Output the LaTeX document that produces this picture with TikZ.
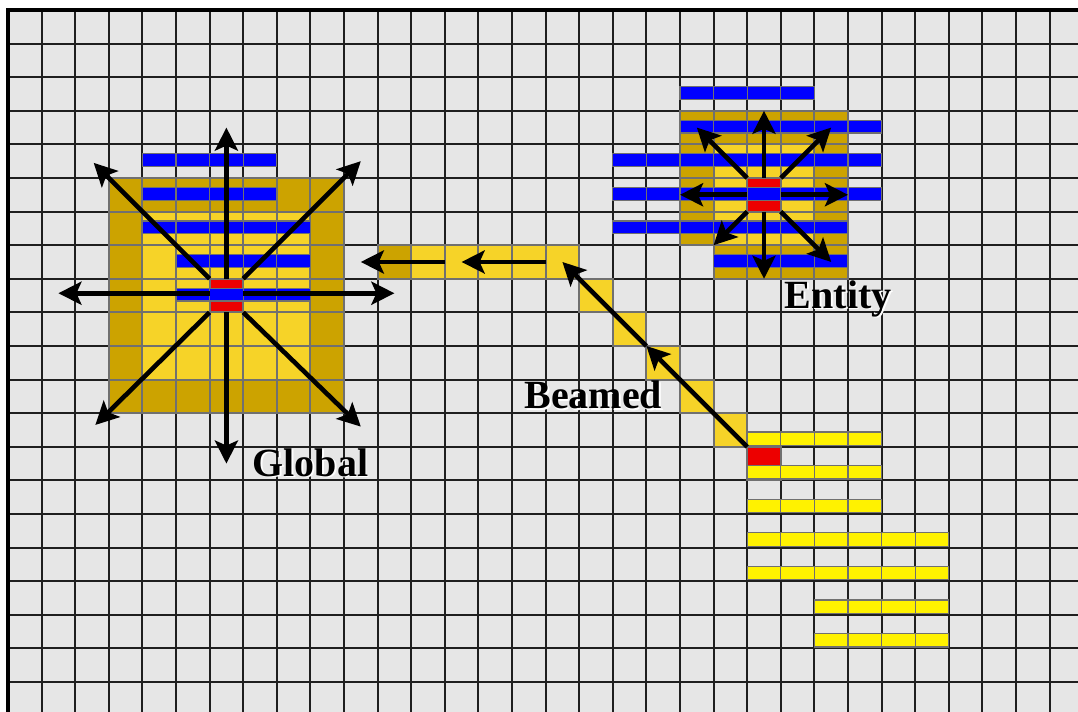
\documentclass[tikz,border=0pt]{standalone}
\usepackage{fontspec}
\setmainfont{Liberation Serif}
\usetikzlibrary{arrows.meta}

\definecolor{bggray}{RGB}{230,230,230}
\definecolor{darkgold}{RGB}{204,163,0}
\definecolor{lightgold}{RGB}{246,211,40}
\definecolor{cellline}{RGB}{112,112,112}
\definecolor{hitred}{RGB}{237,0,0}

% bold label with a faint white shadow
\newcommand{\halo}[1]{\makebox[0pt][l]{\hspace{0.8pt}\raisebox{-0.8pt}{\textcolor{white}{#1}}}#1}

\begin{document}
\begin{tikzpicture}[x=16.8pt, y=-16.8pt,
	gridline/.style={line width=1pt, color=black!88},
	cell/.style={draw=cellline, line width=1pt},
	bar/.style={draw=cellline, line width=0.6pt},
	ray/.style={line width=2.3pt, -{Stealth[length=11.5pt, width=11.5pt, inset=2.5pt]}},
	tag/.style={anchor=base, inner sep=0pt, font=\fontsize{20}{24}\selectfont\bfseries}]
	\useasboundingbox (-0.238,-0.297) rectangle (31.845,20.89);
	\clip (-0.238,-0.297) rectangle (31.845,20.89);
	\fill[white] (-0.238,-0.297) rectangle (31.845,20.89);
	% floor grid, one line per cell edge
	\fill[bggray] (0,0) rectangle (32,21);
	\foreach \c in {1,...,32}
		\draw[gridline] (\c,0) -- (\c,21);
	\foreach \r in {1,...,21}
		\draw[gridline] (0,\r) -- (32,\r);

	% global block: 7x7 outer ring, 5x5 core
	\foreach \c in {3,...,9}
		\foreach \r in {5,...,11}
			\filldraw[cell, fill=darkgold] (\c,\r) rectangle ++(1,1);
	\foreach \c in {4,...,8}
		\foreach \r in {6,...,10}
			\filldraw[cell, fill=lightgold] (\c,\r) rectangle ++(1,1);
	\filldraw[cell, fill=hitred] (6,8) rectangle ++(1,1);

	% entity block
	\foreach \c in {20,...,24}
		\foreach \r in {3,...,6}
			\filldraw[cell, fill=darkgold] (\c,\r) rectangle ++(1,1);
	\foreach \c in {21,...,24}
		\filldraw[cell, fill=darkgold] (\c,7) rectangle ++(1,1);
	\foreach \c in {21,...,23}
		\foreach \r in {4,...,6}
			\filldraw[cell, fill=lightgold] (\c,\r) rectangle ++(1,1);
	\filldraw[cell, fill=hitred] (22,5) rectangle ++(1,1);

	% beam track
	\filldraw[cell, fill=darkgold] (11,7) rectangle ++(1,1);
	\foreach \c in {12,...,16}
		\filldraw[cell, fill=lightgold] (\c,7) rectangle ++(1,1);
	\foreach \c/\r in {17/8,18/9,19/10,20/11,21/12}
		\filldraw[cell, fill=lightgold] (\c,\r) rectangle ++(1,1);
	\filldraw[cell, fill=hitred] (22,13) rectangle ++(1,1);

	% blue bars : row/first/last column
	\foreach \r/\a/\b in {4/4/7, 5/4/7, 6/4/8, 7/5/8, 8/5/8,
			2/20/23, 3/20/25, 4/18/25, 5/18/25, 6/18/24, 7/21/24}
		\foreach \c in {\a,...,\b}
			\filldraw[bar, fill=blue] (\c,\r+0.28) rectangle ++(1,0.38);

	% yellow bars, sitting low in the row
	\foreach \r/\a/\b in {12/22/25, 13/22/25, 14/22/25, 15/22/27, 16/22/27,
			17/24/27, 18/24/27}
		\foreach \c in {\a,...,\b}
			\filldraw[bar, fill=yellow] (\c,\r+0.56) rectangle ++(1,0.4);

	% rays out of the global source
	\coordinate (glob) at (6.5,8.5);
	\draw[ray] (6.5,8) -- (6.5,3.5);
	\draw[ray] (6.5,9) -- (6.5,13.5);
	\draw[ray] (6,8.43) -- (1.5,8.43);
	\draw[ray] (7,8.43) -- (11.5,8.43);
	\draw[ray] (6,8) -- (2.55,4.55);
	\draw[ray] (7,8) -- (10.5,4.5);
	\draw[ray] (6,9) -- (2.6,12.35);
	\draw[ray] (7,9) -- (10.5,12.4);

	% rays out of the entity
	\coordinate (ent) at (22.5,5.5);
	\draw[ray] (22.5,5) -- (22.5,3);
	\draw[ray] (22.5,6) -- (22.5,8);
	\draw[ray] (22,5.5) -- (20,5.5);
	\draw[ray] (23,5.5) -- (25,5.5);
	\draw[ray] (22,5) -- (20.5,3.5);
	\draw[ray] (23,5) -- (24.5,3.5);
	\draw[ray] (22,6) -- (21,7);
	\draw[ray] (23,6) -- (24.5,7.5);

	% beamed path
	\coordinate (beam0) at (22,13);
	\coordinate (beam1) at (19,10);
	\coordinate (beam2) at (16.5,7.5);
	\draw[ray] (beam0) -- (beam1);
	\draw[ray] (beam1) -- (beam2);
	\draw[ray] (16,7.5) -- (13.5,7.5);
	\draw[ray] (13,7.5) -- (10.5,7.5);

	\node[tag] (globaltag) at (9.0,13.87) {\halo{Global}};
	\node[tag] (entitytag) at (24.71,8.87) {\halo{Entity}};
	\node[tag] (beamtag) at (17.42,11.87) {\halo{Beamed}};

	\draw[line width=1.75pt] (0,0) rectangle (32,21);
\end{tikzpicture}
\end{document}
